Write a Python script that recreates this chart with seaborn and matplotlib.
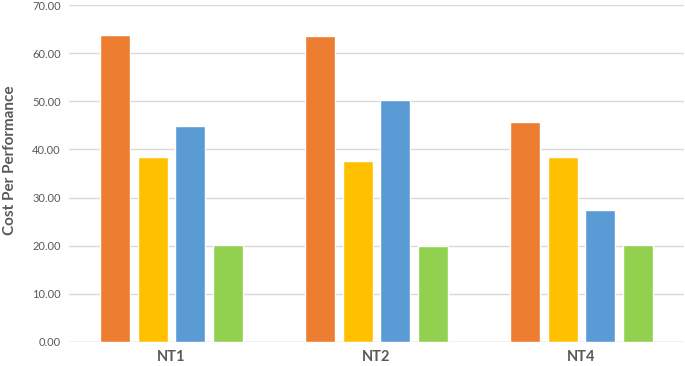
import pandas as pd
import seaborn as sns
from matplotlib import pyplot as plt

# Values
groups = ['NT1', 'NT2', 'NT4']
series = ['S1', 'S2', 'S3', 'S4']
s1_vals = [63.7, 63.5, 45.7]
s2_vals = [38.4, 37.6, 38.4]
s3_vals = [44.9, 50.3, 27.4]
s4_vals = [20.2, 20.0, 20.2]
y_ticks = [0, 10, 20, 30, 40, 50, 60, 70]

colors = ['#ED7D31', '#FFC000', '#5B9BD5', '#92D050']

# Long form for seaborn
rows = []
for name, vals in zip(series, [s1_vals, s2_vals, s3_vals, s4_vals]):
    for g, v in zip(groups, vals):
        rows.append({'group': g, 'series': name, 'value': v})
df = pd.DataFrame(rows)

sns.set_style('white')
plt.rcParams['font.family'] = ['Lato', 'DejaVu Sans']

fig = plt.figure(figsize=(6.85, 3.66), dpi=100)
ax = fig.add_axes([0.1007, 0.0656, 0.898, 0.9207])

sns.barplot(data=df, x='group', y='value', hue='series', palette=colors,
            saturation=1, width=0.73, gap=0.2, legend=False, ax=ax,
            zorder=3)

ax.set_ylim(0, 70)
ax.set_yticks(y_ticks)
ax.set_yticklabels([f'{t:.2f}' for t in y_ticks])
ax.yaxis.grid(True, color='#D9D9D9', linewidth=1, zorder=0)
ax.set_axisbelow(True)
for side in ['top', 'right', 'left', 'bottom']:
    ax.spines[side].set_visible(False)
ax.axhline(0, color='#D9D9D9', linewidth=1, zorder=1)

ax.tick_params(axis='y', length=0, labelsize=8, labelcolor='#595959', pad=6)
ax.tick_params(axis='x', length=0, labelsize=10.5, labelcolor='#595959',
               pad=6)
for lbl in ax.get_xticklabels():
    lbl.set_fontweight('bold')

ax.set_xlabel('')
ax.set_ylabel('Cost Per Performance', fontsize=11, fontweight='bold',
              color='#595959')
ax.yaxis.set_label_coords(-0.085, 0.54)

plt.savefig('out.png', dpi=100)
plt.close()
